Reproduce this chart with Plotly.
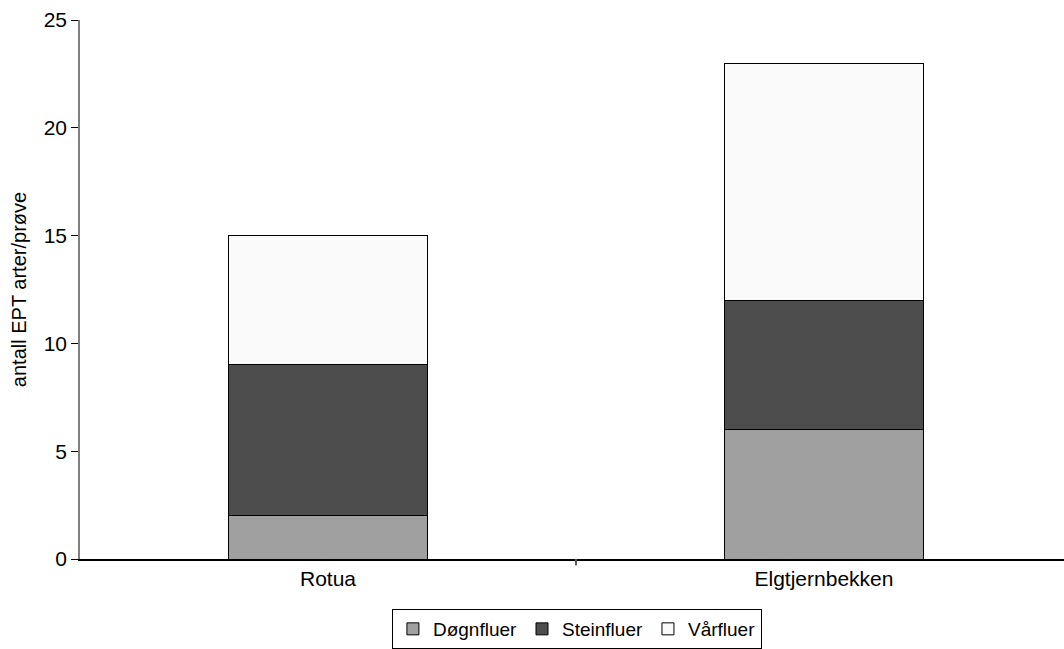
import plotly.graph_objects as go

categories = ["Rotua", "Elgtjernbekken"]
dogn = [2, 6]
stein = [7, 6]
vaar = [6, 11]
series_names = ["Døgnfluer", "Steinfluer", "Vårfluer"]
colors = ["#a0a0a0", "#4d4d4d", "#fafafa"]

fig = go.Figure()
for name, vals, col in zip(series_names, [dogn, stein, vaar], colors):
    fig.add_trace(go.Bar(
        x=[0, 1], y=vals, name=name, width=0.4,
        marker=dict(color=col, line=dict(color="#000000", width=1)),
    ))

fig.update_layout(
    barmode="stack",
    width=1064, height=649,
    margin=dict(l=80, r=0, t=20, b=90),
    plot_bgcolor="white", paper_bgcolor="white",
    font=dict(family="Liberation Sans, Arial", size=21, color="black"),
    showlegend=True,
    legend=dict(
        orientation="h", x=0.505, xanchor="center", y=-0.168, yanchor="bottom",
        bordercolor="black", borderwidth=1, font=dict(size=19),
        itemwidth=30, traceorder="normal",
    ),
    xaxis=dict(
        range=[-0.5, 1.484], tickmode="array", tickvals=[0, 1], ticktext=categories,
        showgrid=False, showline=True, linecolor="black", linewidth=1.5,
        ticks="", zeroline=False, automargin=False,
    ),
    yaxis=dict(
        range=[0, 25], tickmode="array", tickvals=[0, 5, 10, 15, 20, 25],
        showgrid=False, showline=True, linecolor="#808080", linewidth=1.5,
        ticks="outside", ticklen=7, tickcolor="black", zeroline=False,
        automargin=False,
        title=dict(text="antall EPT arter/prøve", font=dict(size=20), standoff=12),
    ),
)
fig.add_shape(type="line", xref="x", yref="paper", x0=0.5, x1=0.5, y0=0, y1=-0.012,
              line=dict(color="#555555", width=2))

fig.write_html("out.html", config={"displayModeBar": False},
               post_script="document.body.style.margin='0';")
